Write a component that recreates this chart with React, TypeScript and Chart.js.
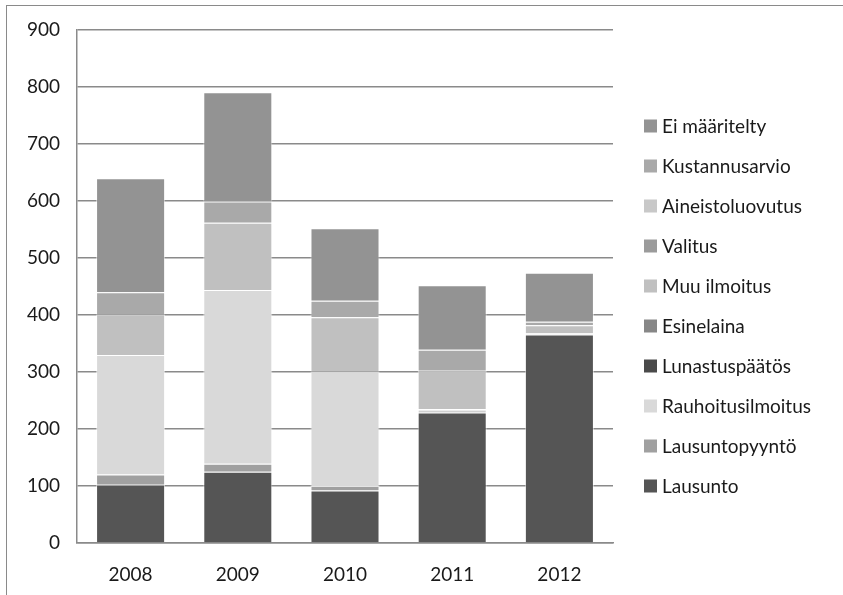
import React, { useEffect, useRef } from "react";
import { Chart, registerables } from "chart.js";

Chart.register(...registerables);

const years = ["2008", "2009", "2010", "2011", "2012"];

const lausunto = [102, 125, 92, 229, 366];
const lausuntopyynto = [18, 14, 8, 3, 0];
const rauhoitusilmoitus = [210, 305, 201, 3, 2];
const lunastuspaatos = [0, 0, 0, 0, 0];
const esinelaina = [0, 0, 0, 0, 0];
const muuIlmoitus = [71, 118, 95, 67, 14];
const valitus = [0, 0, 0, 0, 0];
const aineistoluovutus = [0, 0, 0, 0, 0];
const kustannusarvio = [39, 37, 29, 37, 6];
const eiMaaritelty = [200, 192, 127, 113, 86];

const yTicks = [0, 100, 200, 300, 400, 500, 600, 700, 800, 900];

const series = [
  { label: "Lausunto", data: lausunto, color: "#555555" },
  { label: "Lausuntopyyntö", data: lausuntopyynto, color: "#a0a0a0" },
  { label: "Rauhoitusilmoitus", data: rauhoitusilmoitus, color: "#d9d9d9" },
  { label: "Lunastuspäätös", data: lunastuspaatos, color: "#4a4a4a" },
  { label: "Esinelaina", data: esinelaina, color: "#878787" },
  { label: "Muu ilmoitus", data: muuIlmoitus, color: "#c0c0c0" },
  { label: "Valitus", data: valitus, color: "#9b9b9b" },
  { label: "Aineistoluovutus", data: aineistoluovutus, color: "#c8c8c8" },
  { label: "Kustannusarvio", data: kustannusarvio, color: "#a9a9a9" },
  { label: "Ei määritelty", data: eiMaaritelty, color: "#939393" },
];

const FONT = "Lato, 'Open Sans', sans-serif";
const FONT_SIZE = 19;

// Legend drawn at the right, last series on top, like the stacking order
const sideLegend = {
  id: "sideLegend",
  afterDraw(chart: Chart) {
    const ctx = chart.ctx;
    const ds = chart.data.datasets;
    const x = chart.chartArea.right + 31;
    const yStart = 126;
    const step = 40;
    ctx.save();
    ctx.font = `${FONT_SIZE}px ${FONT}`;
    ctx.textBaseline = "middle";
    ctx.textAlign = "left";
    for (let i = ds.length - 1, row = 0; i >= 0; i--, row++) {
      const y = yStart + row * step;
      ctx.fillStyle = ds[i].backgroundColor as string;
      ctx.fillRect(x, y - 6.5, 13, 13);
      ctx.fillStyle = "#1a1a1a";
      ctx.fillText(ds[i].label as string, x + 18, y + 1);
    }
    ctx.restore();
  },
};

export default function App() {
  const ref = useRef<HTMLCanvasElement | null>(null);

  useEffect(() => {
    if (!ref.current) return;
    const chart = new Chart(ref.current, {
      type: "bar",
      data: {
        labels: years,
        datasets: series.map((s) => ({
          label: s.label,
          data: s.data,
          backgroundColor: s.color,
          borderColor: "rgba(255,255,255,0.55)",
          borderWidth: 1,
          barPercentage: 0.644,
          categoryPercentage: 1,
        })),
      },
      options: {
        animation: false,
        responsive: false,
        maintainAspectRatio: false,
        layout: { padding: { left: 0, top: 30, right: 230, bottom: 0 } },
        plugins: {
          legend: { display: false },
          tooltip: { enabled: false },
        },
        scales: {
          x: {
            stacked: true,
            grid: { display: false },
            border: { display: true, color: "#8a8a8a", width: 1.5 },
            ticks: {
              color: "#1a1a1a",
              font: { family: FONT, size: FONT_SIZE },
              padding: 12,
            },
            afterFit(scale: any) {
              scale.height = 52;
            },
          },
          y: {
            stacked: true,
            min: 0,
            max: 900,
            afterBuildTicks(scale: any) {
              scale.ticks = yTicks.map((v) => ({ value: v }));
            },
            grid: {
              color: "#8a8a8a",
              lineWidth: 1.5,
              drawTicks: false,
            },
            border: { display: true, color: "#8a8a8a", width: 1.5 },
            ticks: {
              color: "#1a1a1a",
              font: { family: FONT, size: FONT_SIZE },
              padding: 17,
            },
            afterFit(scale: any) {
              scale.width = 77;
            },
          },
        },
      },
      plugins: [sideLegend],
    });
    return () => chart.destroy();
  }, []);

  return (
    <div style={{ position: "fixed", left: 0, top: 0, width: 843, height: 595, background: "#fff" }}>
      <div
        style={{
          position: "absolute",
          left: 6,
          top: 5,
          width: 900,
          height: 700,
          borderTop: "1px solid #8a8a8a",
          borderLeft: "1px solid #8a8a8a",
        }}
      />
      <canvas ref={ref} width={843} height={595} style={{ position: "absolute", left: 0, top: 0 }} />
    </div>
  );
}
